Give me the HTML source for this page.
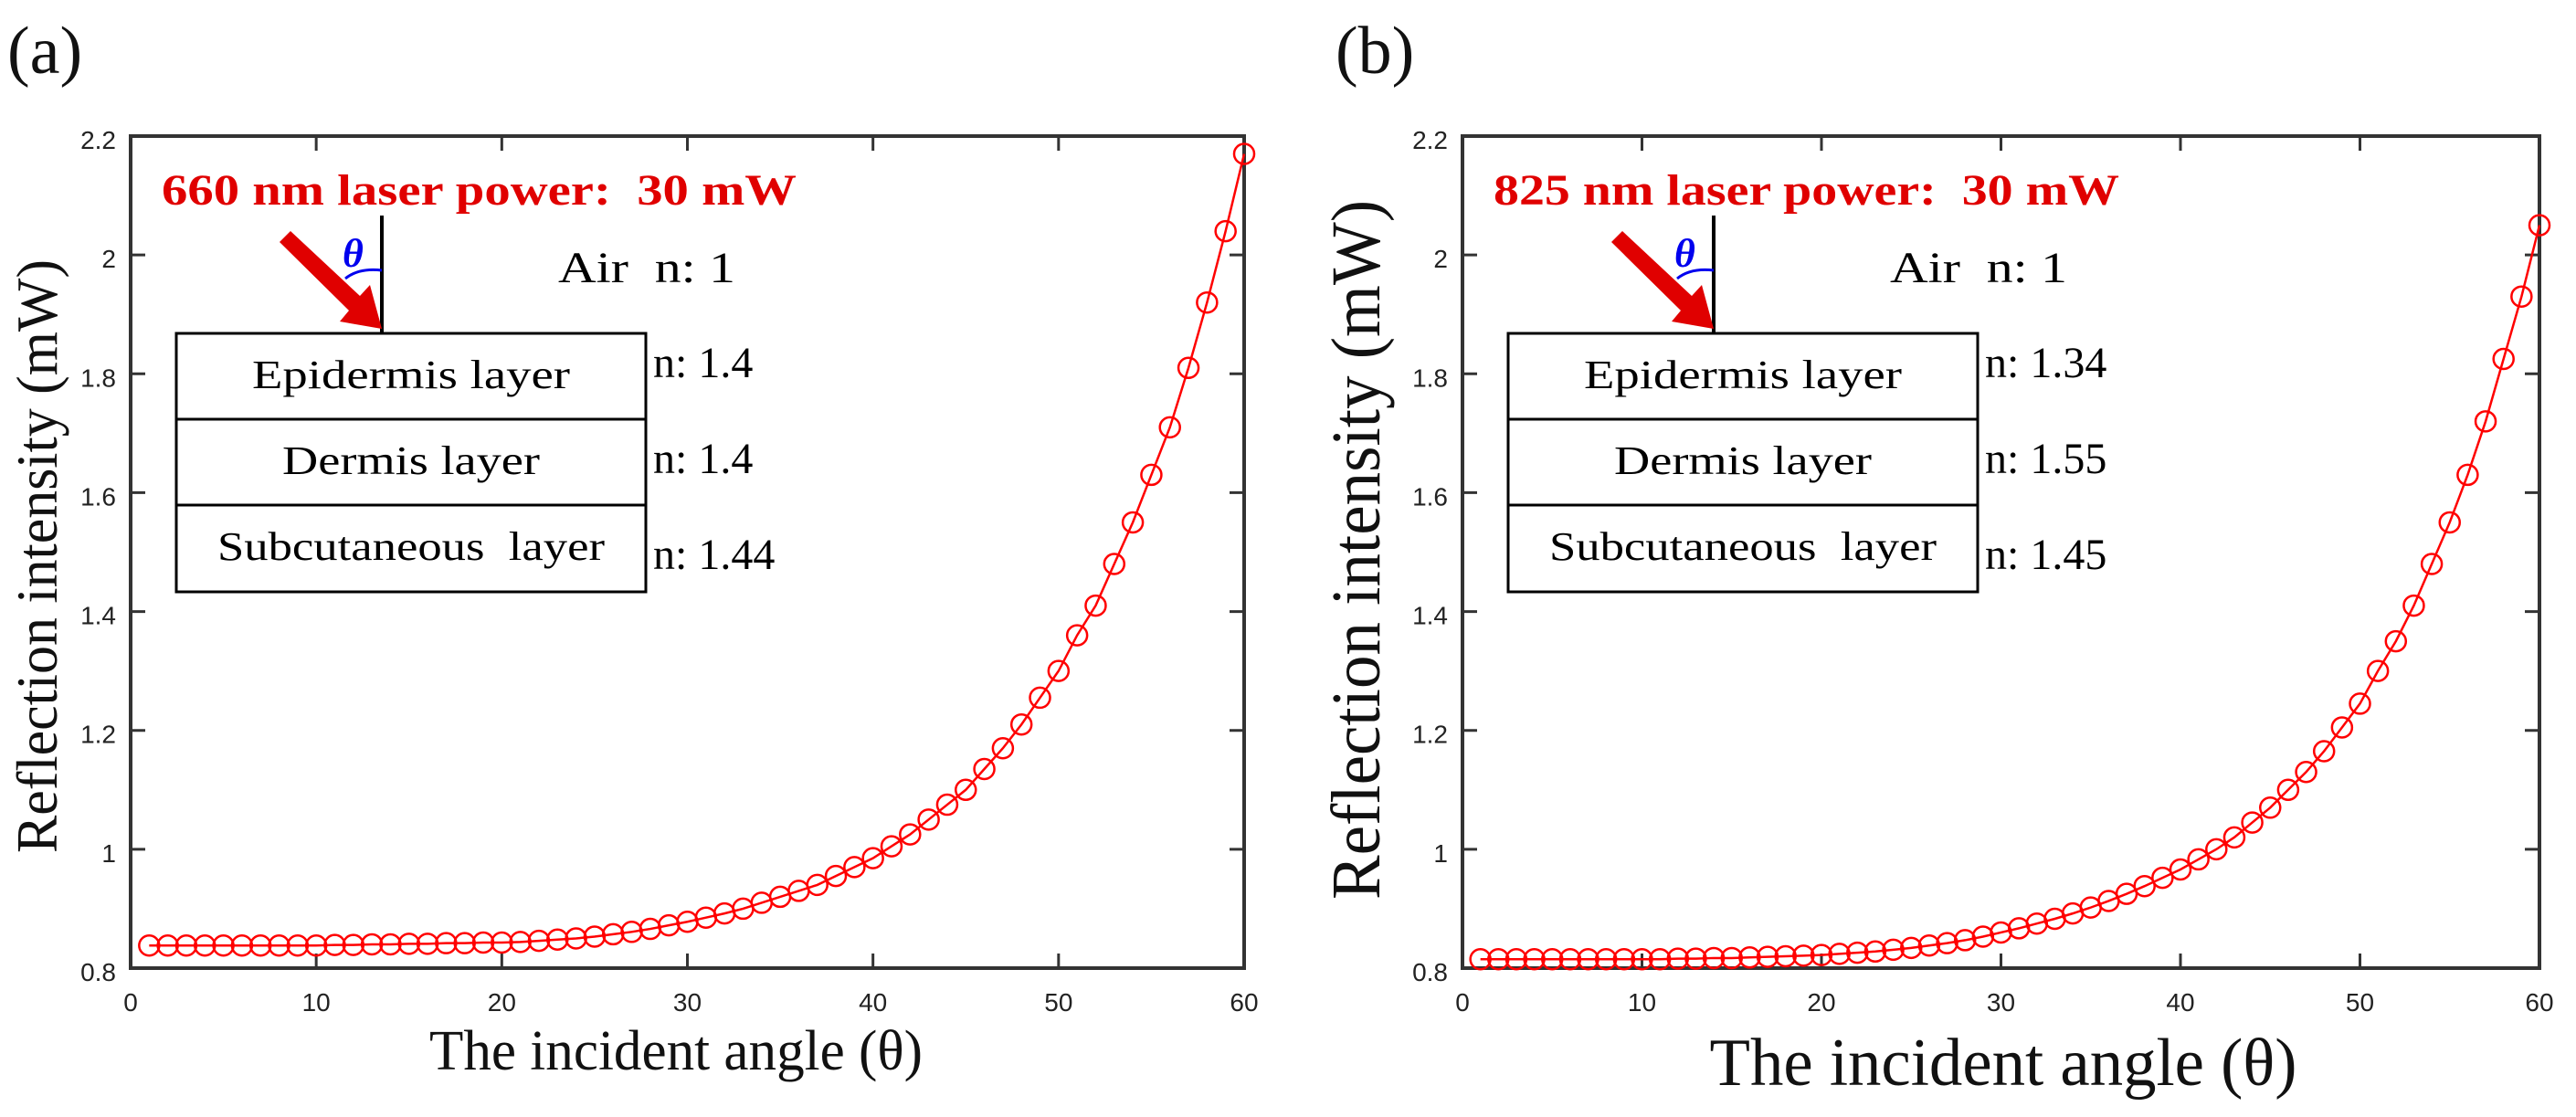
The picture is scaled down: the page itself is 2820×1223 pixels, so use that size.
<!DOCTYPE html>
<html><head><meta charset="utf-8"><style>
html,body{margin:0;padding:0;background:#fff;}
svg{display:block;font-family:"Liberation Serif",serif;}
.pre{white-space:pre;}
</style></head><body>
<svg id="fig" width="2820" height="1223" viewBox="0 0 2820 1223" xmlns="http://www.w3.org/2000/svg">
<g id="pa"></g>
<g id="pb"></g>
</svg>
<script>
const angles = Array.from({length:60},(_,i)=>i+1);
const xTicks = [0,10,20,30,40,50,60];
const yTicks = [0.8,1,1.2,1.4,1.6,1.8,2,2.2];
const yTickLabels = ["0.8","1","1.2","1.4","1.6","1.8","2","2.2"];
const seriesA = [0.838,0.838,0.838,0.838,0.838,0.838,0.838,0.838,0.838,0.838,
0.839,0.839,0.840,0.840,0.841,0.841,0.842,0.842,0.843,0.843,
0.844,0.846,0.848,0.850,0.853,0.857,0.861,0.866,0.872,0.878,
0.885,0.892,0.900,0.910,0.920,0.930,0.940,0.955,0.970,0.985,
1.005,1.025,1.050,1.075,1.100,1.135,1.170,1.210,1.255,1.300,
1.360,1.410,1.480,1.550,1.630,1.710,1.810,1.920,2.040,2.170];
const seriesB = [0.815,0.815,0.815,0.815,0.815,0.815,0.815,0.815,0.815,0.815,
0.815,0.816,0.816,0.817,0.817,0.818,0.819,0.820,0.821,0.822,
0.824,0.826,0.828,0.831,0.834,0.838,0.842,0.847,0.853,0.860,
0.867,0.875,0.883,0.892,0.902,0.913,0.925,0.938,0.952,0.966,
0.983,1.000,1.020,1.045,1.070,1.100,1.130,1.165,1.205,1.245,
1.300,1.350,1.410,1.480,1.550,1.630,1.720,1.825,1.930,2.050];
const NS="http://www.w3.org/2000/svg";
function mk(parent,tag,attrs,text){const e=document.createElementNS(NS,tag);for(const k in attrs)e.setAttribute(k,attrs[k]);if(text!==undefined)e.textContent=text;parent.appendChild(e);return e;}

function panel(g,cfg){
  const L=cfg.L,R=cfg.R,T=149,B=1060;
  const xs=v=>L+(v-0)/(60-0)*(R-L);
  const ys=v=>B-(v-0.8)/(2.2-0.8)*(B-T);
  const box=mk(g,'rect',{x:L,y:T,width:R-L,height:B-T,fill:'none',stroke:'#333',"stroke-width":4});
  
  
  xTicks.forEach(t=>{
    const x=xs(t);
    const tk=mk(g,'path',{d:`M${x},${B}v-16M${x},${T}v16`,stroke:'#333',"stroke-width":3});
    
    
    const lb=mk(g,'text',{x:x,y:B+47,"text-anchor":'middle',"font-family":'Liberation Sans Narrow, Liberation Sans, sans-serif',"font-size":28,fill:'#222'},String(t));
    
    
  });
  yTicks.forEach((t,i)=>{
    const y=ys(t);
    const tk=mk(g,'path',{d:`M${L},${y}h16M${R},${y}h-16`,stroke:'#333',"stroke-width":3});
    
    
    const lb=mk(g,'text',{x:L-16,y:y+14,"text-anchor":'end',"font-family":'Liberation Sans Narrow, Liberation Sans, sans-serif',"font-size":28,fill:'#222'},yTickLabels[i]);
    
    
  });
  const vals=cfg.data;
  const pts=angles.map((a,i)=>xs(a)+','+ys(vals[i])).join(' ');
  const line=mk(g,'polyline',{points:pts,fill:'none',stroke:'#f00',"stroke-width":2.5});
  
  
  angles.forEach((a,i)=>{
    const c=mk(g,'ellipse',{cx:xs(a),cy:ys(vals[i]),rx:11,ry:11,fill:'none',stroke:'#f00',"stroke-width":2.5});
    
    
  });
  const yl=mk(g,'text',{transform:`translate(${cfg.ylx},${cfg.ylc}) rotate(-90)`,"text-anchor":'middle',"font-size":cfg.ylf,fill:'#111',textLength:cfg.ylw,lengthAdjust:'spacingAndGlyphs'},'Reflection intensity (mW)');
  
  
  const xl=mk(g,'text',{x:cfg.xlc,y:cfg.xly,"text-anchor":'middle',"font-size":cfg.xlf,fill:'#111',textLength:cfg.xlw,lengthAdjust:'spacingAndGlyphs'},'The incident angle (θ)');
  
  
  const pl=mk(g,'text',{x:cfg.plx,y:80,"font-size":74,fill:'#111'},cfg.plabel);
  
  
  const ox=cfg.ox;
  const ttl=mk(g,'text',{x:ox-16,y:224,"font-size":48,"font-weight":'bold',fill:'#e00000',textLength:cfg.tw,lengthAdjust:'spacingAndGlyphs',class:'pre'},cfg.title);
  
  
  const nx=ox+225;
  const vl=mk(g,'line',{x1:nx,y1:236,x2:nx,y2:365,stroke:'#000',"stroke-width":4});
  
  
  const arr=mk(g,'path',{d:`M${nx-112},${265} L${nx-36},${340} L${nx-46},${352} L${nx},${360} L${nx-13},${312} L${nx-24},${324} L${nx-100},${253} Z`,fill:'#e00000'});
  
  
  const arc=mk(g,'path',{d:`M${nx-40},${305} Q${nx-25},${293} ${nx},${296}`,fill:'none',stroke:'#0000ee',"stroke-width":3});
  
  
  const th=mk(g,'text',{x:nx-43,y:292,"font-size":44,"font-style":'italic',"font-weight":'bold',fill:'#0000ee'},'θ');
  
  
  const ib=mk(g,'rect',{x:ox,y:365,width:514,height:283,fill:'#fff',stroke:'#000',"stroke-width":3});
  
  
  [459,553].forEach(y=>{const d=mk(g,'line',{x1:ox,y1:y,x2:ox+514,y2:y,stroke:'#000',"stroke-width":3});
    
    });
  const layers=['Epidermis layer','Dermis layer','Subcutaneous  layer'];
  const lw=[348,282,424];
  layers.forEach((s,i)=>{const t=mk(g,'text',{x:ox+257,y:425+i*94,"text-anchor":'middle',"font-size":44,fill:'#000',textLength:lw[i],lengthAdjust:'spacingAndGlyphs',class:'pre'},s);
    
    });
  const air=mk(g,'text',{x:ox+418,y:309,"font-size":48,fill:'#000',class:'pre',textLength:194,lengthAdjust:'spacingAndGlyphs'},'Air  n: 1');
  
  
  cfg.n.forEach((s,i)=>{const t=mk(g,'text',{x:ox+522,y:413+i*105,"font-size":48,fill:'#000'},'n: '+s);
    
    });
}
panel(document.getElementById('pa'),{L:143,R:1362,data:seriesA,ylx:62,ylc:609,ylf:64,ylw:650,xlc:740,xly:1171,xlf:62,xlw:540,plx:8,plabel:'(a)',ox:193,title:'660 nm laser power:  30 mW',tw:695,n:['1.4','1.4','1.44']});
panel(document.getElementById('pb'),{L:1601,R:2780,data:seriesB,ylx:1510,ylc:602,ylf:76,ylw:766,xlc:2193,xly:1188,xlf:74,xlw:643,plx:1462,plabel:'(b)',ox:1651,title:'825 nm laser power:  30 mW',tw:685,n:['1.34','1.55','1.45']});
</script>
</body></html>
